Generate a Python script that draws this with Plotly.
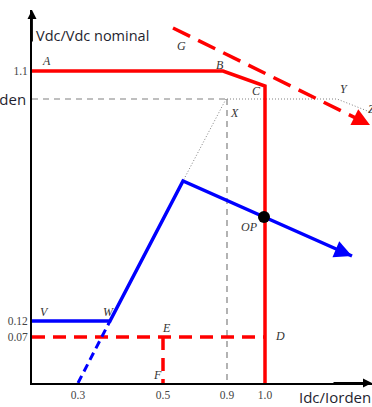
import plotly.graph_objects as go

# schematic coordinates (x: Idc/Iorden axis, y: Vdc/Vdc nominal axis), not to scale
red_solid_x = [0, 191, 233, 233]
red_solid_y = [312, 312, 297, 0]
red_dash_top_x = [141, 338]
red_dash_top_y = [355, 258]
red_dash_h_x = [0, 233]
red_dash_h_y = [46, 46]
red_dash_v_x = [131, 131]
red_dash_v_y = [46, 0]
blue_x = [0, 78, 151, 232, 320]
blue_y = [62, 62, 202, 166, 127]
blue_dash_x = [46, 78]
blue_dash_y = [0, 62]
grey_dash_h_x = [0, 195]
grey_dash_h_y = [284, 284]
grey_dash_v_x = [195, 195]
grey_dash_v_y = [284, 0]
dot_h_x = [195, 305, 338]
dot_h_y = [284, 284, 271]
dot_diag_x = [194, 151]
dot_diag_y = [284, 202]
op_x = [232]
op_y = [166]

x_tick_vals = [46, 131, 195, 233]
x_tick_text = ["0.3", "0.5", "0.9", "1.0"]
y_tick_vals = [312, 62, 46]
y_tick_text = ["1.1", "0.12", "0.07"]

point_labels = ["A", "B", "C", "G", "X", "Y", "Z", "V", "W", "E", "F", "D"]
point_label_x = [8, 182, 218, 143, 196, 306, 334, 6, 69, 128, 119, 241]
point_label_y = [322, 318, 292, 337, 270, 294, 274, 71, 71, 55, 8, 47]

RED = "#ff0000"
BLUE = "#0000ff"
GREY = "#808080"

fig = go.Figure()

def line(x, y, color, width, dash="solid"):
    fig.add_trace(go.Scatter(x=x, y=y, mode="lines", line=dict(color=color, width=width, dash=dash),
                             hoverinfo="skip", showlegend=False, cliponaxis=False))

line(grey_dash_h_x, grey_dash_h_y, GREY, 1.2, "6px,5px")
line(grey_dash_v_x, grey_dash_v_y, GREY, 1.2, "6px,5px")
line(dot_h_x, dot_h_y, GREY, 1, "1px,2px")
line(dot_diag_x, dot_diag_y, GREY, 1, "1px,2px")
line(red_solid_x, red_solid_y, RED, 3.5)
line(red_dash_top_x, red_dash_top_y, RED, 3.5, "19px,9px")
line(red_dash_h_x, red_dash_h_y, RED, 3.5, "13px,8px")
line(red_dash_v_x, red_dash_v_y, RED, 3.5, "13px,8px")
line(blue_x, blue_y, BLUE, 3.5)
line(blue_dash_x, blue_dash_y, BLUE, 3, "8px,5px")
fig.add_trace(go.Scatter(x=op_x, y=op_y, mode="markers", marker=dict(color="black", size=12),
                         hoverinfo="skip", showlegend=False, cliponaxis=False))

# arrow heads
fig.add_annotation(x=red_dash_top_x[-1], y=red_dash_top_y[-1], ax=red_dash_top_x[-1] - 12,
                   ay=red_dash_top_y[-1] + 6, xref="x", yref="y", axref="x", ayref="y",
                   showarrow=True, arrowhead=2, arrowsize=1, arrowwidth=3.5, arrowcolor=RED, text="")
fig.add_annotation(x=blue_x[-1], y=blue_y[-1], ax=blue_x[-1] - 12, ay=blue_y[-1] + 5,
                   xref="x", yref="y", axref="x", ayref="y",
                   showarrow=True, arrowhead=2, arrowsize=1, arrowwidth=3.5, arrowcolor=BLUE, text="")
fig.add_annotation(x=0, y=373, ax=0, ay=340, xref="x", yref="y", axref="x", ayref="y",
                   showarrow=True, arrowhead=2, arrowsize=1, arrowwidth=1.8, arrowcolor="black", text="")
fig.add_annotation(x=340, y=0, ax=300, ay=0, xref="x", yref="y", axref="x", ayref="y",
                   showarrow=True, arrowhead=2, arrowsize=1, arrowwidth=1.8, arrowcolor="black", text="")

for t, lx, ly in zip(point_labels, point_label_x, point_label_y):
    fig.add_annotation(x=lx, y=ly, text="<i>%s</i>" % t, showarrow=False, xref="x", yref="y",
                       xanchor="left", yanchor="middle",
                       font=dict(family="Liberation Serif", size=12, color="#333333"))
fig.add_annotation(x=op_x[0], y=op_y[0], xshift=-4, yshift=-10, text="<i>OP</i>", showarrow=False,
                   xref="x", yref="y", xanchor="right", yanchor="middle",
                   font=dict(family="Liberation Serif", size=12, color="#333333"))

fig.add_annotation(x=2, y=348, text="Vdc/Vdc nominal", showarrow=False, xref="x", yref="y",
                   xanchor="left", yanchor="middle",
                   font=dict(family="Open Sans", size=14.5, color="#1f1f2f"))
fig.add_annotation(x=265, y=0, yshift=-14, text="Idc/Iorden", showarrow=False, xref="x", yref="y",
                   xanchor="left", yanchor="middle",
                   font=dict(family="Open Sans", size=15, color="#1f1f2f"))
fig.add_annotation(x=0, y=284, xshift=-4, text="Iorden", showarrow=False, xref="x", yref="y",
                   xanchor="right", yanchor="middle",
                   font=dict(family="Open Sans", size=15, color="#1f1f2f"))

axis_common = dict(showgrid=False, zeroline=False, showline=True, linecolor="black", linewidth=1.8,
                   ticks="", automargin=False,
                   tickfont=dict(family="Liberation Serif", size=11.5, color="#444444"))
fig.update_xaxes(range=[0, 340], tickvals=x_tick_vals, ticktext=x_tick_text, **axis_common)
fig.update_yaxes(range=[0, 373], tickvals=y_tick_vals, ticktext=y_tick_text, **axis_common)

fig.update_layout(width=372, height=407, margin=dict(l=32, r=0, t=10, b=24),
                  paper_bgcolor="white", plot_bgcolor="white", showlegend=False)

fig.write_html("out.html", config={"displayModeBar": False},
               post_script="document.body.style.margin='0';")
